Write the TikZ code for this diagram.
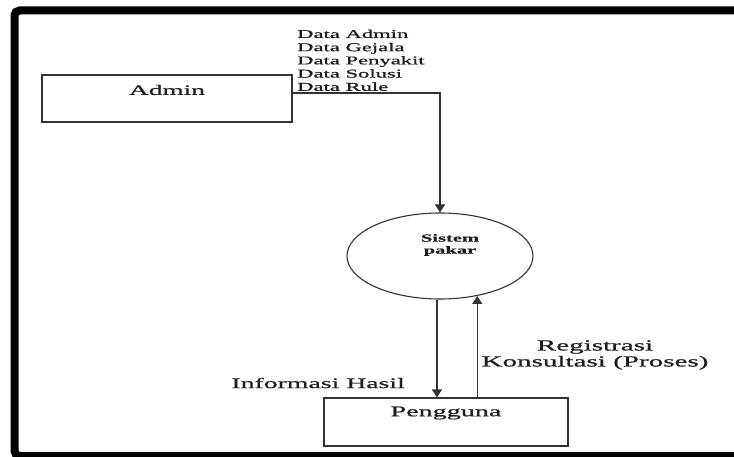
\documentclass[tikz,border=0pt]{standalone}
\usepackage{fontspec}
\setmainfont{Liberation Serif}[FakeStretch=1.9,FakeBold=0.9]
\usetikzlibrary{arrows.meta,shapes.geometric}

\definecolor{ink}{HTML}{1E1E1E}
\definecolor{edge}{HTML}{333333}

\tikzset{
  entity/.style={draw=edge, line width=1.1pt, rectangle, inner sep=0pt},
  process/.style={draw=edge, line width=1.1pt, ellipse, inner sep=0pt},
  caption/.style={text=ink, inner sep=0pt},
  flow/.style={draw=edge, line width=1.1pt, -{Triangle[length=8pt,width=10pt]}},
  frameline/.style={line width=8pt, rounded corners=5pt}
}

\begin{document}
\begin{tikzpicture}[x=1pt, y=-1pt]
  \useasboundingbox (0,0) rectangle (734,457);
  \fill[white] (0,0) rectangle (734,457);

  % outer frame
  \draw[frameline] (740,10.5) -- (14.5,10.5) -- (14.5,456) -- (740,456);

  % external entities and process
  \node[entity, minimum width=250pt, minimum height=47pt] (admin) at (167,98.5) {};
  \node[caption, font=\fontsize{14.4}{16}\selectfont] (admintxt) at (167,90) {Admin};

  \node[process, minimum width=186pt, minimum height=86pt] (sp) at (440,256) {};
  \node[caption, align=center, font=\bfseries\fontsize{10.8}{12}\selectfont] (sptxt) at (450,245) {Sistem\\pakar};

  \node[entity, minimum width=244pt, minimum height=48pt] (pengguna) at (446,422) {};
  \node[caption, font=\fontsize{14.8}{16}\selectfont] (penggunatxt) at (446,413) {Pengguna};

  % data flow labels
  \node[caption, anchor=north west, align=left, font=\fontsize{11.9}{13.2}\selectfont] (datalist) at (297,29.5)
    {Data Admin\\Data Gejala\\Data Penyakit\\Data Solusi\\Data Rule};
  \node[caption, anchor=east, font=\fontsize{14.6}{16}\selectfont] (infolbl) at (405,383) {Informasi Hasil};
  \node[caption, align=center, font=\fontsize{15.3}{16}\selectfont] (reglbl) at (595,355)
    {Registrasi\\Konsultasi (Proses)};

  % flows
  \coordinate (bend) at (440,93);
  \draw[flow] (admin.east |- bend) -- (bend) -- (sp.north);
  \draw[flow] (sp.-94) -- (pengguna.north -| sp.-94);
  \draw[flow] (pengguna.north -| sp.-47) -- (sp.-47);
\end{tikzpicture}
\end{document}
